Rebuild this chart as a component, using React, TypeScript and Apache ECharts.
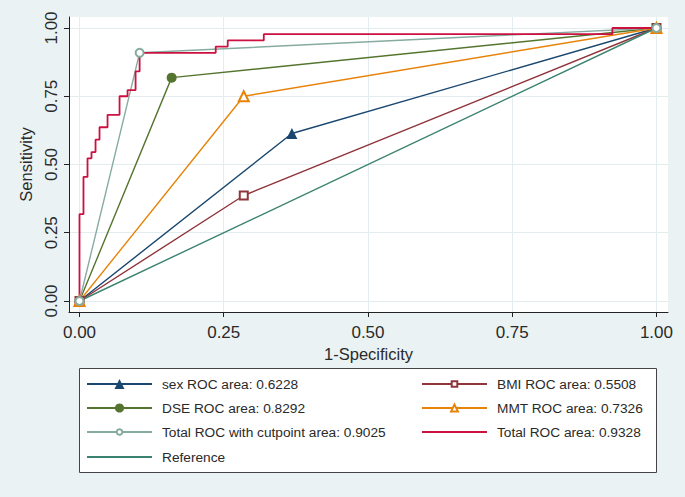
import React, { useEffect, useRef } from "react";
import * as echarts from "echarts";

// ---- data ----
const xTicks = [0, 0.25, 0.5, 0.75, 1];
const yTicks = [0, 0.25, 0.5, 0.75, 1];

const sexX = [0, 0.3681, 1];
const sexY = [0, 0.6136, 1];
const bmiX = [0, 0.2847, 1];
const bmiY = [0, 0.3864, 1];
const dseX = [0, 0.1597, 1];
const dseY = [0, 0.8182, 1];
const mmtX = [0, 0.2847, 1];
const mmtY = [0, 0.75, 1];
const cutX = [0, 0.1042, 1];
const cutY = [0, 0.9091, 1];
const totalX = [0, 0, 0.0069, 0.0069, 0.0139, 0.0139, 0.0208, 0.0208, 0.0278, 0.0278, 0.0347, 0.0347, 0.0486, 0.0486, 0.0694, 0.0694, 0.0833, 0.0833, 0.0972, 0.0972, 0.1042, 0.1042, 0.2361, 0.2361, 0.2569, 0.2569, 0.3194, 0.3194, 0.9236, 0.9236, 1];
const totalY = [0, 0.3182, 0.3182, 0.4545, 0.4545, 0.5227, 0.5227, 0.5455, 0.5455, 0.5909, 0.5909, 0.6364, 0.6364, 0.6818, 0.6818, 0.75, 0.75, 0.7727, 0.7727, 0.8409, 0.8409, 0.9091, 0.9091, 0.9318, 0.9318, 0.9545, 0.9545, 0.9773, 0.9773, 1, 1];
const refX = [0, 1];
const refY = [0, 1];

const names = {
  sex: "sex ROC area: 0.6228",
  bmi: "BMI ROC area: 0.5508",
  dse: "DSE ROC area: 0.8292",
  mmt: "MMT ROC area: 0.7326",
  cut: "Total ROC with cutpoint area: 0.9025",
  total: "Total ROC area: 0.9328",
  ref: "Reference",
};

const FONT = "'Liberation Sans', Arial, Helvetica, sans-serif";

const zip = (xs: number[], ys: number[]) => xs.map((x, i) => [x, ys[i]]);

export default function App() {
  const ref = useRef<HTMLDivElement>(null);
  useEffect(() => {
    document.body.style.margin = "0";
    const chart = echarts.init(ref.current!, undefined, { renderer: "svg" });
    const mk = (
      name: string,
      xs: number[],
      ys: number[],
      color: string,
      symbol: string,
      size: number,
      width = 1.4
    ) => ({
      type: "line",
      name,
      data: zip(xs, ys),
      symbol,
      symbolSize: size,
      showSymbol: symbol !== "none",
      color,
      itemStyle: { color, borderWidth: symbol.startsWith("empty") ? 1.3 : 0 },
      lineStyle: { color, width },
      emphasis: { disabled: true },
      silent: true,
    });
    const axisCommon = {
      type: "value",
      axisLine: { show: true, onZero: false, lineStyle: { color: "#222", width: 1 } },
      axisTick: { show: true, length: 5, lineStyle: { color: "#222", width: 1 } },
      splitLine: { show: true, lineStyle: { color: "#e3edf0", width: 1 } },
    };
    const legendText = {
      fontFamily: FONT,
      fontSize: 13.7,
      color: "#2a2a2a",
      lineHeight: 16,
      padding: [0, 0, 0, 5],
    };
    const leg = (name: string, left: number, rowCenter: number, h: number, hideSym = false) => ({
      orient: "vertical",
      left,
      top: rowCenter - 8,
      padding: 0,
      itemWidth: 65,
      itemHeight: h,
      itemGap: 0,
      textStyle: legendText,
      selectedMode: false,
      data: [hideSym ? { name, itemStyle: { opacity: 0 } } : { name }],
    });
    const option: any = {
      animation: false,
      backgroundColor: "#eaf2f3",
      grid: {
        left: 69,
        right: 17,
        top: 17,
        bottom: 185,
        show: true,
        backgroundColor: "#ffffff",
        borderWidth: 0,
        containLabel: false,
        outerBoundsMode: "none",
      },
      xAxis: {
        ...axisCommon,
        min: -0.0182,
        max: 1.02,
        name: "1-Specificity",
        nameLocation: "middle",
        nameGap: 29,
        nameTextStyle: { fontFamily: FONT, fontSize: 16.5, color: "#2a2a2a" },
        axisTick: { ...axisCommon.axisTick, customValues: xTicks },
        axisLabel: {
          customValues: xTicks,
          margin: 12,
          fontFamily: FONT,
          fontSize: 17,
          color: "#2a2a2a",
          formatter: (v: number) => v.toFixed(2),
        },
      },
      yAxis: {
        ...axisCommon,
        min: -0.0403,
        max: 1.0403,
        name: "Sensitivity",
        nameLocation: "middle",
        nameGap: 26,
        nameTextStyle: { fontFamily: FONT, fontSize: 16.5, color: "#2a2a2a" },
        axisTick: { ...axisCommon.axisTick, customValues: yTicks },
        axisLabel: {
          customValues: yTicks,
          rotate: 90,
          margin: 9.5,
          fontFamily: FONT,
          fontSize: 17,
          color: "#2a2a2a",
          formatter: (v: number) => v.toFixed(2),
        },
      },
      graphic: [
        {
          type: "rect",
          z: 0,
          shape: { x: 79.5, y: 368.5, width: 577, height: 104 },
          style: { fill: "#ffffff", stroke: "#444", lineWidth: 1 },
        },
      ],
      legend: [
        leg(names.sex, 86, 384, 12.5),
        leg(names.dse, 86, 408, 11.5),
        leg(names.cut, 86, 432, 7),
        leg(names.ref, 86, 457, 10, true),
        leg(names.bmi, 421, 384, 7),
        leg(names.mmt, 421, 408, 8.5),
        leg(names.total, 421, 432, 10, true),
      ],
      series: [
        mk(names.sex, sexX, sexY, "#1a476f", "triangle", 11),
        mk(names.bmi, bmiX, bmiY, "#90353b", "emptyRect", 8),
        mk(names.dse, dseX, dseY, "#55752f", "circle", 10),
        mk(names.mmt, mmtX, mmtY, "#e8830a", "emptyTriangle", 10),
        mk(names.cut, cutX, cutY, "#86aba0", "emptyCircle", 8),
        mk(names.total, totalX, totalY, "#cc1040", "none", 0, 1.8),
        mk(names.ref, refX, refY, "#3b8370", "none", 0),
      ],
    };
    chart.setOption(option);
    return () => chart.dispose();
  }, []);
  return (
    <div
      ref={ref}
      style={{ position: "fixed", left: 0, top: 0, width: 685, height: 497 }}
    />
  );
}
